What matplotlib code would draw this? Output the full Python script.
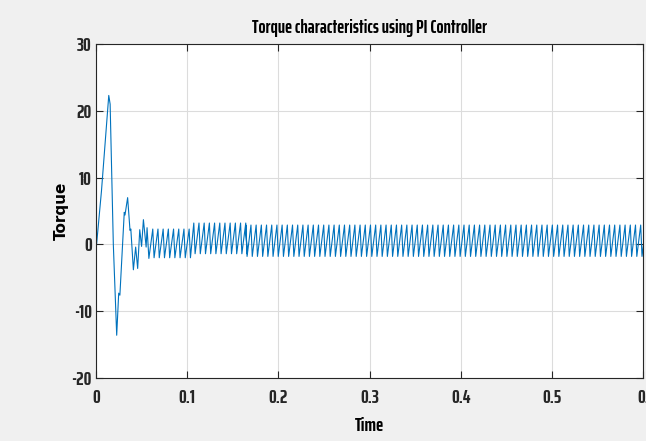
import matplotlib
matplotlib.use("Agg")
import matplotlib.pyplot as plt
import numpy as np

# start-up transient (s, torque)
trans_t = [0.0, 0.0007, 0.006, 0.011, 0.014, 0.0155, 0.019, 0.0227, 0.0249, 0.0262,
           0.031, 0.0318, 0.0347, 0.0373, 0.0382, 0.041, 0.0435, 0.0457, 0.048,
           0.050, 0.052, 0.055, 0.056, 0.058]
trans_v = [0.0, 0.1, 8.0, 17.0, 22.3, 21.0, 0.0, -13.6, -7.3, -7.6,
           4.8, 4.4, 7.0, 2.1, 2.3, -3.8, -0.4, -3.6, 2.2,
           -0.3, 3.7, -0.4, 2.5, -2.1]

# steady ripple: segments (start, end, peak, trough) and ripple period
seg_start = [0.058, 0.103, 0.160]
seg_end = [0.103, 0.160, 0.600]
seg_hi = [2.3, 3.2, 2.9]
seg_lo = [-2.0, -1.4, -1.8]
ripple_period = 0.0057

x_ticks = [0, 0.1, 0.2, 0.3, 0.4, 0.5, 0.6]
x_ticklabels = ["0", "0.1", "0.2", "0.3", "0.4", "0.5", "0."]
y_ticks = [-20, -10, 0, 10, 20, 30]

# build the ripple: each cycle rises from trough to peak, then drops back
t_all = list(trans_t)
v_all = list(trans_v)
for s, e, hi, lo in zip(seg_start, seg_end, seg_hi, seg_lo):
    for c in np.arange(s, e, ripple_period):
        t_all += [c + 0.75 * ripple_period, c + ripple_period]
        v_all += [hi, lo]

narrow = ["Saira ExtraCondensed", "DejaVu Sans"]

fig = plt.figure(figsize=(6.46, 4.41), dpi=100, facecolor="#f0f0f0")
ax = fig.add_axes([96 / 646, 63 / 441, 547 / 646, 334 / 441])
ax.set_facecolor("white")

ax.plot(t_all, v_all, color="#0072BD", linewidth=0.8)

ax.set_xlim(0, 0.6)
ax.set_ylim(-20, 30)
ax.set_xticks(x_ticks)
ax.set_xticklabels(x_ticklabels, family=narrow, fontsize=14, fontweight="bold")
ax.set_yticks(y_ticks)
ax.set_yticklabels([str(v) for v in y_ticks], family=narrow, fontsize=14, fontweight="bold")
ax.tick_params(direction="in", top=True, right=True, length=5, width=0.8,
               colors="#262626")
ax.tick_params(axis="x", pad=8)
ax.tick_params(axis="y", pad=3)
ax.grid(True, color="#dcdcdc", linewidth=0.8)
ax.set_axisbelow(True)
for sp in ax.spines.values():
    sp.set_color("#262626")
    sp.set_linewidth(0.8)

ax.set_title("Torque characteristics using PI Controller", family=narrow,
             fontsize=13.5, fontweight="bold", pad=8)
ax.set_xlabel("Time", family=narrow, fontsize=14, fontweight="bold", labelpad=7)
ax.set_ylabel("Torque", family=["DejaVu Sans"], fontsize=11,
              fontweight="bold", labelpad=2)

fig.savefig("out.png", dpi=100, facecolor=fig.get_facecolor())
